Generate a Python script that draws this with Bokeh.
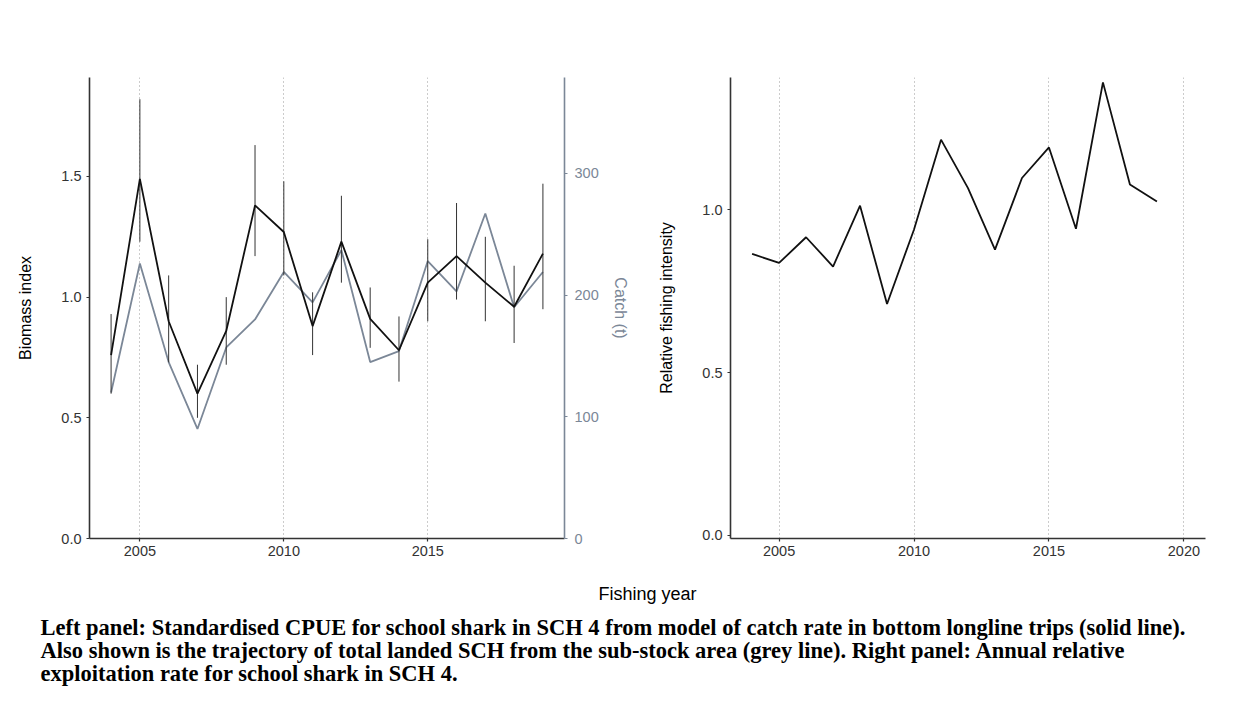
from bokeh.plotting import figure
from bokeh.models import Range1d, LinearAxis, FixedTicker, PrintfTickFormatter
from bokeh.layouts import column, row
from bokeh.embed import file_html
from bokeh.resources import INLINE
from bokeh.core.properties import value

# ---------------- data ----------------
years = [2004, 2005, 2006, 2007, 2008, 2009, 2010, 2011,
         2012, 2013, 2014, 2015, 2016, 2017, 2018, 2019]
biomass_index = [0.76, 1.49, 0.90, 0.60, 0.86, 1.38, 1.27, 0.88,
                 1.23, 0.91, 0.78, 1.06, 1.17, 1.06, 0.96, 1.18]
biomass_lower = [0.60, 1.23, 0.73, 0.50, 0.72, 1.17, 1.09, 0.76,
                 1.06, 0.79, 0.65, 0.90, 0.99, 0.90, 0.81, 0.95]
biomass_upper = [0.93, 1.82, 1.09, 0.72, 1.00, 1.63, 1.48, 1.02,
                 1.42, 1.04, 0.92, 1.24, 1.39, 1.25, 1.13, 1.47]
catch_t = [120, 226, 145, 90, 157, 180, 219, 194,
           237, 145, 154, 228, 203, 267, 190, 219]
rel_intensity = [0.865, 0.837, 0.916, 0.826, 1.013, 0.711, 0.94, 1.216,
                 1.067, 0.878, 1.098, 1.192, 0.942, 1.392, 1.078, 1.026]

left_year_ticks = [2005, 2010, 2015]
right_year_ticks = [2005, 2010, 2015, 2020]
biomass_ticks = [0.0, 0.5, 1.0, 1.5]
catch_ticks = [0, 100, 200, 300]
intensity_ticks = [0.0, 0.5, 1.0]

x_title = "Fishing year"
caption_lines = [
    "Left panel: Standardised CPUE for school shark in SCH 4 from model of catch rate in bottom longline trips (solid line).",
    "Also shown is the trajectory of total landed SCH from the sub-stock area (grey line). Right panel: Annual relative",
    "exploitation rate for school shark in SCH 4.",
]

# ---------------- style ----------------
FONT = "Liberation Sans"
AX = "#333333"
GREY = "#7b8797"
TICK_FS = "14.5px"
TITLE_FS = "16px"


def style_axis(ax, color=AX, label_color="#000000"):
    ax.axis_line_color = color
    ax.axis_line_width = 1.6
    ax.major_tick_line_color = color
    ax.major_tick_line_width = 1.2
    ax.major_tick_out = 3
    ax.major_tick_in = 0
    ax.minor_tick_line_color = None
    ax.major_label_text_font = FONT
    ax.major_label_text_font_size = TICK_FS
    ax.major_label_text_color = color
    ax.axis_label_text_font = FONT
    ax.axis_label_text_font_size = TITLE_FS
    ax.axis_label_text_font_style = "normal"
    ax.axis_label_text_color = label_color


def base_fig(width, xr, yr, bl, br):
    p = figure(width=width, height=575, output_backend="svg", toolbar_location=None,
               x_range=xr, y_range=yr, min_border_left=bl, min_border_right=br,
               min_border_top=77, min_border_bottom=37)
    p.outline_line_color = None
    p.ygrid.visible = False
    p.xgrid.grid_line_color = "#999999"
    p.xgrid.grid_line_dash = "1 3"
    p.xgrid.grid_line_width = 1
    p.background_fill_color = "white"
    p.border_fill_color = "white"
    return p


# ---------------- left panel ----------------
p1 = base_fig(648, Range1d(2003.25, 2019.75), Range1d(0, 1.91), 89, 84)
p1.extra_y_ranges = {"catch": Range1d(0, 378.8)}

p1.xaxis.ticker = FixedTicker(ticks=left_year_ticks)
p1.xgrid.ticker = FixedTicker(ticks=left_year_ticks)
p1.yaxis.ticker = FixedTicker(ticks=biomass_ticks)
p1.yaxis.formatter = PrintfTickFormatter(format="%.1f")
p1.yaxis.axis_label = "Biomass index"
style_axis(p1.xaxis[0])
style_axis(p1.yaxis[0])
p1.xaxis.major_label_standoff = 4
p1.yaxis.major_label_standoff = 5
p1.yaxis.axis_label_standoff = 24

catch_axis = LinearAxis(y_range_name="catch", axis_label="Catch (t)",
                        ticker=FixedTicker(ticks=catch_ticks))
style_axis(catch_axis, color=GREY, label_color=GREY)
catch_axis.major_label_standoff = 7
catch_axis.axis_label_standoff = 10
p1.add_layout(catch_axis, "right")

p1.line(years, catch_t, y_range_name="catch", line_color=GREY, line_width=1.8)
p1.segment(x0=years, y0=biomass_lower, x1=years, y1=biomass_upper,
           line_color="#333333", line_width=1)
p1.line(years, biomass_index, line_color="#111111", line_width=1.8)

# ---------------- right panel ----------------
p2 = base_fig(594, Range1d(2003.2, 2020.8), Range1d(-0.01, 1.407), 82, 37)
p2.xaxis.ticker = FixedTicker(ticks=right_year_ticks)
p2.xgrid.ticker = FixedTicker(ticks=right_year_ticks)
p2.yaxis.ticker = FixedTicker(ticks=intensity_ticks)
p2.yaxis.formatter = PrintfTickFormatter(format="%.1f")
p2.yaxis.axis_label = "Relative fishing intensity"
style_axis(p2.xaxis[0])
style_axis(p2.yaxis[0])
p2.xaxis.major_label_standoff = 4
p2.yaxis.major_label_standoff = 5
p2.yaxis.axis_label_standoff = 24
p2.line(years, rel_intensity, line_color="#111111", line_width=1.8)

# ---------------- shared x title + caption ----------------
p3 = figure(width=1242, height=135, output_backend="svg", toolbar_location=None,
            x_range=Range1d(0, 1242), y_range=Range1d(135, 0),
            min_border=0)
p3.xaxis.visible = False
p3.yaxis.visible = False
p3.grid.visible = False
p3.outline_line_color = None
p3.text(x=[647], y=[18], text=[x_title], text_font=value(FONT),
        text_font_size="18px", text_align="center", text_baseline="middle",
        text_color="#000000")
p3.text(x=[40, 40, 40], y=[52, 75, 98], text=caption_lines,
        text_font=value("Liberation Serif"), text_font_style="bold",
        text_font_size="22.5px", text_align="left", text_baseline="middle",
        text_color="#000000")

layout = column(row(p1, p2), p3)
open("out.html", "w").write(file_html(layout, INLINE))
